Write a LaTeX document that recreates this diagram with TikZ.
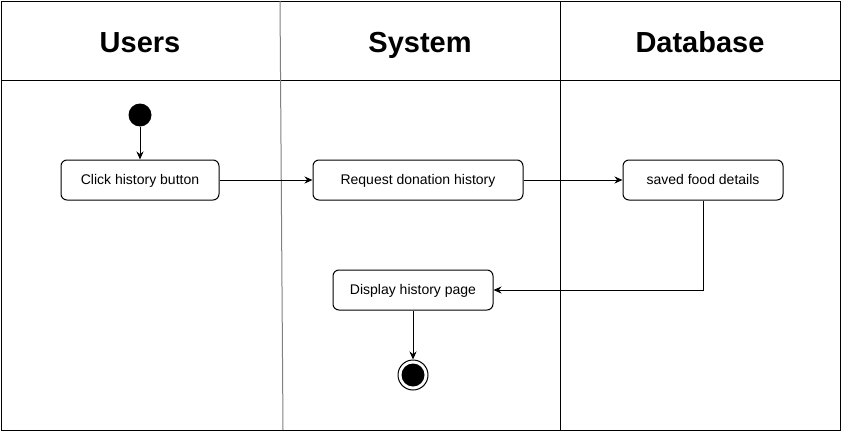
\documentclass[tikz,border=0pt]{standalone}
\usepackage{fontspec}
\setmainfont{Liberation Sans}
\usetikzlibrary{arrows.meta,positioning,calc}

\begin{document}
\begin{tikzpicture}[x=1pt, y=-1pt, line width=1pt,
		action/.style={draw, rounded corners=6pt, minimum height=40pt, inner sep=0pt, text height=11pt, text depth=3pt, font=\fontsize{14}{16}\selectfont},
		lanetitle/.style={anchor=base, font=\bfseries\fontsize{29}{32}\selectfont},
		flow/.style={-{Stealth[length=8pt, width=7pt]}}]

		\useasboundingbox (0, 0) rectangle (844, 434);

		% swimlanes
		\draw (1, 1) rectangle (840, 430);
		\draw (1, 80) -- (840, 80);
		\draw[black!50] (280, 1) -- (283, 430);
		\draw (560, 1) -- (560, 430);

		\node[lanetitle] (Lusers) at (140, 52) {Users};
		\node[lanetitle] (Lsystem) at (420, 52) {System};
		\node[lanetitle] (Ldb) at (700, 52) {Database};

		% activities
		\node[circle, fill, minimum size=23pt, inner sep=0pt] (start) at (140, 115) {};
		\node[action, minimum width=158pt] (click) at (140, 180) {Click history button};
		\node[action, minimum width=210pt] (request) at (418, 180) {Request donation history};
		\node[action, minimum width=160pt] (saved) at (703, 180) {saved food details};
		\node[action, minimum width=160pt] (display) at (413, 290) {Display history page};

		\node[circle, draw, minimum size=30pt, inner sep=0pt] (end) at (413, 375) {};
		\node[circle, fill, minimum size=23pt, inner sep=0pt] (endcore) at (end) {};

		% flows
		\draw[flow] (start) -- (click);
		\draw[flow] (click) -- (request);
		\draw[flow] (request) -- (saved);
		\draw[flow] (saved.south) |- (display.east);
		\draw[flow] (display) -- (end);

	\end{tikzpicture}
\end{document}
